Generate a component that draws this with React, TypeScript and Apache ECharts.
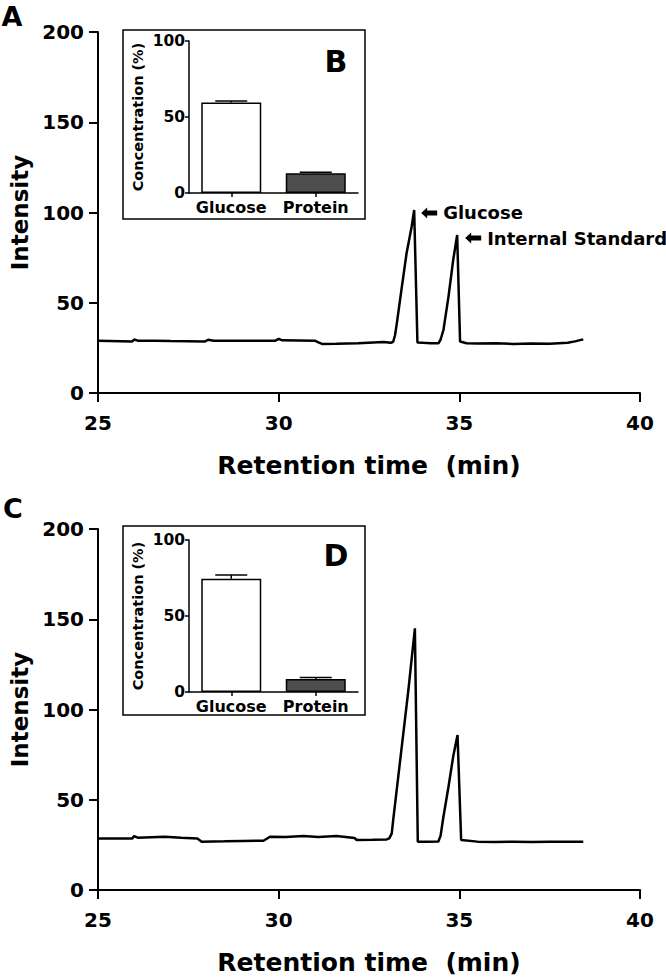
import React, { useEffect, useRef } from "react";
import * as echarts from "echarts";

const FONT = "'DejaVu Sans', sans-serif";

// Chromatogram A (retention time, min / intensity)
const timeA = [25.0, 25.95, 26.0, 26.1, 26.6, 27.0, 27.95, 28.05, 28.2, 29.0, 29.9, 30.0, 30.1, 31.0, 31.1, 31.2, 31.6, 32.2, 32.9, 33.1, 33.17, 33.22, 33.27, 33.41, 33.54, 33.68, 33.75, 33.84, 34.0, 34.2, 34.42, 34.48, 34.56, 34.7, 34.83, 34.94, 35.02, 35.2, 35.5, 36.0, 36.5, 37.0, 37.5, 38.0, 38.2, 38.43];
const intensityA = [29.0, 28.6, 29.6, 29.0, 29.0, 28.8, 28.5, 29.5, 29.0, 29.0, 28.9, 30.0, 29.2, 29.0, 28.0, 27.2, 27.3, 27.6, 28.3, 27.8, 28.4, 32.0, 38.6, 58.9, 77.4, 92.1, 101.4, 28.0, 27.8, 27.6, 27.5, 29.5, 34.9, 53.4, 73.7, 87.5, 28.5, 27.6, 27.4, 27.5, 27.2, 27.4, 27.3, 27.8, 28.6, 29.7];

// Chromatogram C
const timeC = [25.0, 25.95, 26.0, 26.1, 26.85, 27.3, 27.75, 27.87, 28.5, 29.0, 29.58, 29.76, 30.2, 30.68, 31.1, 31.6, 32.1, 32.16, 32.6, 32.99, 33.06, 33.13, 33.17, 33.31, 33.45, 33.59, 33.77, 33.85, 34.1, 34.42, 34.48, 34.56, 34.7, 34.83, 34.95, 35.05, 35.5, 36.0, 36.5, 37.0, 37.5, 38.0, 38.43];
const intensityC = [28.6, 28.6, 29.9, 29.0, 29.5, 29.0, 28.6, 26.8, 27.0, 27.2, 27.3, 29.5, 29.3, 29.9, 29.4, 29.9, 28.8, 27.7, 27.8, 28.0, 28.6, 31.4, 38.8, 62.8, 86.8, 110.8, 145.0, 26.8, 26.8, 26.9, 30.0, 40.6, 57.2, 73.9, 85.9, 27.7, 26.8, 26.6, 26.7, 26.6, 26.7, 26.8, 26.8];

// Peak annotations in A
const peakNamesA = ["Glucose", "Internal Standard"];
const peakTimesA = [33.75, 34.94];
const peakIntensA = [101.4, 87.5];

// Insets
const insetCategories = ["Glucose", "Protein"];
const concB = [59.5, 13.0];
const errB = [1.0, 0.6];
const concD = [74.5, 8.5];
const errD = [2.5, 1.0];

const ARROW = "path://M0,5.5 L6,0 L6,3 L16,3 L16,8 L6,8 L6,11 Z";

function mainX(gridIndex: number) {
  return {
    gridIndex,
    type: "value",
    min: 25,
    max: 40,
    interval: 5,
    axisLine: { show: true, lineStyle: { color: "#000", width: 2 } },
    axisTick: { show: true, length: 9, lineStyle: { color: "#000", width: 2 } },
    axisLabel: { fontSize: 20, fontWeight: "bold", color: "#000", margin: 20, fontFamily: FONT },
    splitLine: { show: false },
    name: "Retention time  (min)",
    nameLocation: "middle",
    nameGap: 60,
    nameTextStyle: { fontSize: 25, fontWeight: "bold", color: "#000", fontFamily: FONT },
  };
}

function mainY(gridIndex: number) {
  return {
    gridIndex,
    type: "value",
    min: 0,
    max: 200,
    interval: 50,
    axisLine: { show: true, lineStyle: { color: "#000", width: 2 } },
    axisTick: { show: true, length: 9, lineStyle: { color: "#000", width: 2 } },
    axisLabel: { fontSize: 20, fontWeight: "bold", color: "#000", margin: 14, fontFamily: FONT },
    splitLine: { show: false },
    name: "Intensity",
    nameLocation: "middle",
    nameRotate: 90,
    nameGap: 66,
    nameTextStyle: { fontSize: 23, fontWeight: "bold", color: "#000", fontFamily: FONT },
  };
}

function insetX(gridIndex: number) {
  return {
    gridIndex,
    type: "category",
    data: insetCategories,
    axisLine: { show: true, lineStyle: { color: "#000", width: 1.5 } },
    axisTick: { show: true, alignWithLabel: true, length: 4, lineStyle: { color: "#000", width: 1.5 } },
    axisLabel: { interval: 0, fontSize: 16, fontWeight: "bold", color: "#000", margin: 6, fontFamily: FONT },
    splitLine: { show: false },
  };
}

function insetY(gridIndex: number) {
  return {
    gridIndex,
    type: "value",
    min: 0,
    max: 100,
    interval: 50,
    axisLine: { show: true, lineStyle: { color: "#000", width: 1.5 } },
    axisTick: { show: true, length: 4, lineStyle: { color: "#000", width: 1.5 } },
    axisLabel: { fontSize: 15.5, fontWeight: "bold", color: "#000", margin: 4, fontFamily: FONT },
    splitLine: { show: false },
    name: "Concentration (%)",
    nameLocation: "middle",
    nameRotate: 90,
    nameGap: 44,
    nameTextStyle: { fontSize: 14.5, fontWeight: "bold", color: "#000", fontFamily: FONT },
  };
}

function barSeries(axisIndex: number, values: number[]) {
  return {
    type: "bar",
    xAxisIndex: axisIndex,
    yAxisIndex: axisIndex,
    barWidth: 60,
    data: values.map((v, i) => ({
      value: v,
      itemStyle: {
        color: i === 0 ? "#ffffff" : "#4d4d4d",
        borderColor: "#000",
        borderWidth: 1.5,
      },
    })),
  };
}

function errSeries(axisIndex: number, values: number[], errs: number[]) {
  return {
    type: "custom",
    xAxisIndex: axisIndex,
    yAxisIndex: axisIndex,
    z: 10,
    encode: { x: 0, y: 1 },
    data: values.map((v, i) => [i, v, errs[i]]),
    renderItem: (params: any, api: any) => {
      const idx = api.value(0);
      const v = api.value(1);
      const e = api.value(2);
      const base = api.coord([idx, v]);
      const top = api.coord([idx, v + e]);
      const hw = 16;
      return {
        type: "group",
        children: [
          { type: "line", shape: { x1: base[0], y1: base[1], x2: top[0], y2: top[1] }, style: { stroke: "#000", lineWidth: 1.5 } },
          { type: "line", shape: { x1: top[0] - hw, y1: top[1], x2: top[0] + hw, y2: top[1] }, style: { stroke: "#000", lineWidth: 1.5 } },
        ],
      };
    },
  };
}

function letter(text: string, x: number, y: number, size: number) {
  return {
    type: "text",
    x,
    y,
    style: {
      text,
      fontSize: size,
      fontWeight: "bold",
      fontFamily: FONT,
      fill: "#000",
      textAlign: "center",
      textVerticalAlign: "middle",
      align: "center",
      verticalAlign: "middle",
    },
  };
}

export default function App() {
  const ref = useRef<HTMLDivElement>(null);

  useEffect(() => {
    if (!ref.current) return;
    const chart = echarts.init(ref.current, null, { renderer: "svg" });

    const option: any = {
      animation: false,
      backgroundColor: "#ffffff",
      textStyle: { fontFamily: FONT },
      grid: [
        { left: 98, top: 32, width: 542, height: 361 },
        { left: 98, top: 529, width: 542, height: 361 },
        { left: 189, top: 41, width: 169, height: 152 },
        { left: 189, top: 540, width: 169, height: 152 },
      ],
      xAxis: [mainX(0), mainX(1), insetX(2), insetX(3)],
      yAxis: [mainY(0), mainY(1), insetY(2), insetY(3)],
      graphic: [
        {
          type: "rect",
          z: -1,
          shape: { x: 123, y: 30, width: 242, height: 189 },
          style: { fill: "transparent", stroke: "#000", lineWidth: 1.5 },
        },
        {
          type: "rect",
          z: -1,
          shape: { x: 123, y: 526, width: 242, height: 189 },
          style: { fill: "transparent", stroke: "#000", lineWidth: 1.5 },
        },
        letter("A", 12, 16, 27),
        letter("C", 13, 508, 27),
        letter("B", 336, 61, 30),
        letter("D", 336, 555, 30),
      ],
      series: [
        {
          type: "line",
          xAxisIndex: 0,
          yAxisIndex: 0,
          data: timeA.map((t, i) => [t, intensityA[i]]),
          symbol: "none",
          lineStyle: { color: "#000", width: 2.5 },
          markPoint: {
            symbol: ARROW,
            symbolSize: [16, 11],
            itemStyle: { color: "#000" },
            label: {
              show: true,
              position: "right",
              distance: 6,
              color: "#000",
              fontSize: 18,
              fontWeight: "bold",
              fontFamily: FONT,
              formatter: (p: any) => p.name,
            },
            data: peakNamesA.map((n, i) => ({
              name: n,
              coord: [peakTimesA[i], peakIntensA[i]],
              symbolOffset: [i === 0 ? 15 : 16, 3],
            })),
          },
        },
        {
          type: "line",
          xAxisIndex: 1,
          yAxisIndex: 1,
          data: timeC.map((t, i) => [t, intensityC[i]]),
          symbol: "none",
          lineStyle: { color: "#000", width: 2.5 },
        },
        barSeries(2, concB),
        errSeries(2, concB, errB),
        barSeries(3, concD),
        errSeries(3, concD, errD),
      ],
    };

    chart.setOption(option);
    return () => {
      chart.dispose();
    };
  }, []);

  return (
    <div
      ref={ref}
      style={{ position: "absolute", left: 0, top: 0, width: 666, height: 980 }}
    />
  );
}
